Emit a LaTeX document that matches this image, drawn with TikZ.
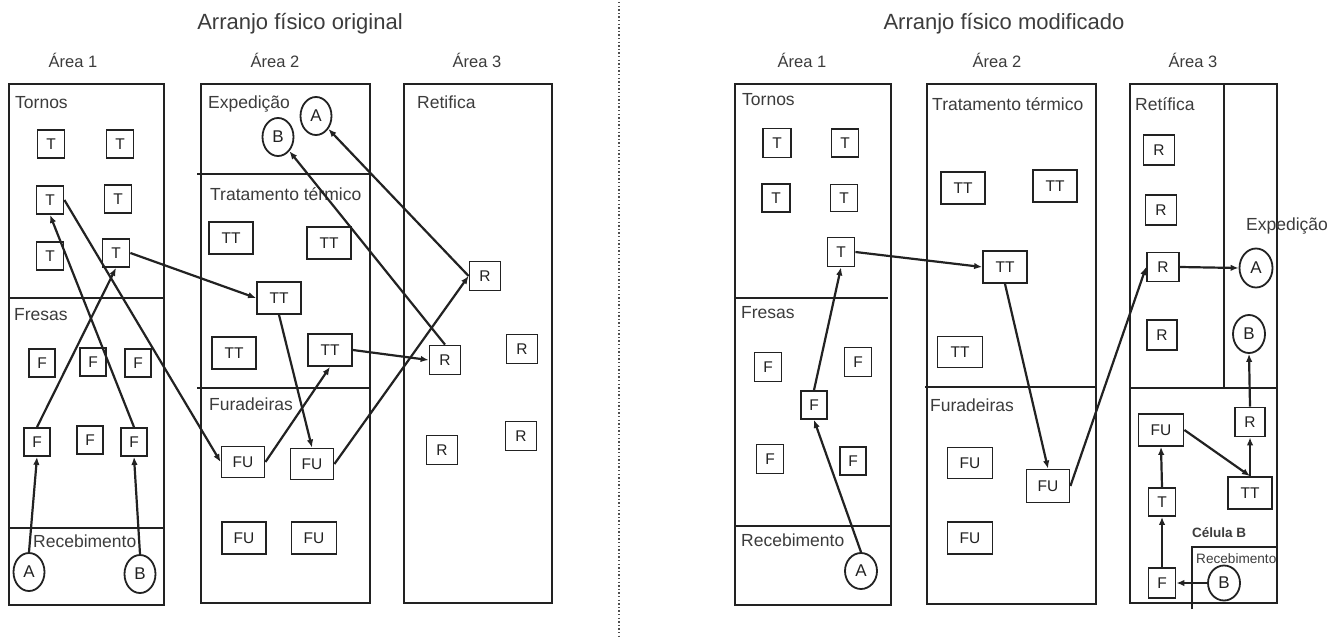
\documentclass[tikz,border=0pt]{standalone}
\usepackage{fontspec}
\setmainfont{Liberation Sans}
\usetikzlibrary{arrows.meta, shapes.geometric, backgrounds}
\definecolor{Ink}{HTML}{222222}
\definecolor{Txt}{HTML}{3C3C3C}
\tikzset{
  area/.style={draw=Ink, line width=1.9pt},
  sepl/.style={draw=Ink, line width=2.2pt},
  zone/.style={anchor=base west, inner sep=0pt, text=Txt,
    font=\fontsize{17.5}{20}\selectfont},
  ttl/.style={anchor=base, inner sep=0pt, text=Txt,
    font=\fontsize{22}{26}\selectfont},
  arealbl/.style={anchor=base, inner sep=0pt, text=Txt,
    font=\fontsize{16.5}{19}\selectfont},
  mach/.style args={#1/#2}{
    rectangle, draw=Ink, line width=1.8pt, inner sep=0pt,
    minimum width=#1pt, minimum height=#2pt,
    text=Ink, font=\fontsize{15.5}{17}\selectfont,
  },
  stock/.style={
    ellipse, draw=Ink, line width=1.8pt, inner sep=0pt,
    minimum width=31pt, minimum height=38pt,
    text=Ink, font=\fontsize{17}{19}\selectfont,
  },
  arr/.style={
    -{Latex[length=8pt,width=6.5pt]},
    line width=2.2pt, draw=Ink,
  },
}

\begin{document}
\begin{tikzpicture}[x=1pt,y=-1pt]

    \fill[white] (0,0) rectangle (1340,636);

    % divider
    \draw[Ink!80, line width=1.4pt, dash pattern=on 1.4pt off 2.2pt] (619,2) -- (619,636);

    \node[ttl] (ttlO) at (300,30) {Arranjo físico original};
    \node[ttl] (ttlM) at (1004,30) {Arranjo físico modificado};

    % ---------------- original ----------------
    \node[arealbl] (oa1) at (73,67)  {Área 1};
    \node[arealbl] (oa2) at (275,67) {Área 2};
    \node[arealbl] (oa3) at (477,67) {Área 3};

    \draw[area] (9,84) rectangle (164,605);
    \draw[sepl] (8,298) -- (163,298);
    \draw[sepl] (8,528) -- (163,528);
    \draw[area] (201,84) rectangle (370,603);
    \draw[sepl] (197,174) -- (370,174);
    \draw[sepl] (197,388) -- (370,388);
    \draw[area] (404,84) rectangle (552,603);

    \node[zone] (oTor) at (15,108)  {Tornos};
    \node[zone] (oFre) at (14,320)  {Fresas};
    \node[zone] (oRec) at (33,547)  {Recebimento};
    \node[zone] (oExp) at (208,108) {Expedição};
    \node[zone] (oTrt) at (210,200) {Tratamento térmico};
    \node[zone] (oFur) at (209,410) {Furadeiras};
    \node[zone] (oRet) at (417,108) {Retifica};

    \node[mach=27/28] (oT1) at (51,144)  {T};
    \node[mach=27/28] (oT2) at (120,144) {T};
    \node[mach=27/28] (oT3) at (50,200)  {T};
    \node[mach=27/28] (oT4) at (118,199) {T};
    \node[mach=27/28] (oT5) at (50,256)  {T};
    \node[mach=27/28] (oT6) at (116,253) {T};

    \node[mach=26/28] (oF1) at (42,363)  {F};
    \node[mach=26/28] (oF2) at (93,362)  {F};
    \node[mach=26/28] (oF3) at (138,363) {F};
    \node[mach=26/28] (oF4) at (37,442)  {F};
    \node[mach=26/28] (oF5) at (90,440)  {F};
    \node[mach=26/28] (oF6) at (134,442) {F};

    \node[stock] (oA) at (29,572)  {A};
    \node[stock] (oB) at (140,574) {B};

    \node[stock] (oEA) at (316,116) {A};
    \node[stock] (oEB) at (278,137) {B};

    \node[mach=44/32] (oTT1) at (231,238) {TT};
    \node[mach=44/32] (oTT2) at (329,243) {TT};
    \node[mach=44/32] (oTT3) at (279,298) {TT};
    \node[mach=44/32] (oTT4) at (234,353) {TT};
    \node[mach=44/32] (oTT5) at (330,350) {TT};

    \node[mach=43/31] (oFU1) at (243,462) {FU};
    \node[mach=43/31] (oFU2) at (312,464) {FU};
    \node[mach=44/32] (oFU3) at (244,538) {FU};
    \node[mach=45/32] (oFU4) at (314,538) {FU};

    \node[mach=31/29] (oR1) at (445,360) {R};
    \node[mach=31/29] (oR2) at (485,276) {R};
    \node[mach=31/29] (oR3) at (522,349) {R};
    \node[mach=31/29] (oR4) at (442,450) {R};
    \node[mach=31/29] (oR5) at (521,436) {R};

    \draw[arr] (oA.north) -- (oF4.south);
    \draw[arr] (oB.north) -- (oF6.south);
    \draw[arr] (oF4.north) -- (oT6.south);
    \draw[arr] (oF6.north) -- (oT3.south);
    \draw[arr] (oT3.east) -- (oFU1.west);
    \draw[arr] (oT6.east) -- (oTT3.west);
    \draw[arr] (oTT3.south) -- (oFU2.north);
    \draw[arr] (oFU1.east) -- (oTT5.south);
    \draw[arr] (oTT5.east) -- (oR1.west);
    \draw[arr] (oFU2.east) -- (oR2.west);
    \draw[arr] (oR2.west) -- (oEA);
    \draw[arr] (oR1.north) -- (oEB);

    % ---------------- modificado ----------------
    \node[arealbl] (ma1) at (802,67)  {Área 1};
    \node[arealbl] (ma2) at (997,67)  {Área 2};
    \node[arealbl] (ma3) at (1193,67) {Área 3};

    \draw[area] (735,84) rectangle (891,605);
    \draw[sepl] (735,298) -- (888,298);
    \draw[sepl] (735,526) -- (890,526);
    \draw[area] (927,84) rectangle (1096,604);
    \draw[sepl] (925,387) -- (1095,387);
    \draw[area] (1130,84) rectangle (1277,603);
    \draw[sepl] (1224,84) -- (1224,388);
    \draw[sepl] (1130,388) -- (1277,388);
    \draw[area] (1192,609) -- (1192,547) -- (1277,547);

    \node[zone] (mTor) at (742,105)  {Tornos};
    \node[zone] (mFre) at (741,318)  {Fresas};
    \node[zone] (mRec) at (741,546)  {Recebimento};
    \node[zone] (mTrt) at (932,110)  {Tratamento térmico};
    \node[zone] (mFur) at (930,411)  {Furadeiras};
    \node[zone] (mRet) at (1135,110) {Retífica};
    \node[zone] (mExp) at (1246,230) {Expedição};
    \node[zone, font=\fontsize{13.5}{16}\selectfont\bfseries] (cel) at (1192,537) {Célula B};
    \node[zone, font=\fontsize{13.6}{16}\selectfont] (cRec) at (1196,563) {Recebimento};

    \node[mach=28/29] (mT1) at (777,143) {T};
    \node[mach=27/28] (mT2) at (845,143) {T};
    \node[mach=28/28] (mT3) at (776,198) {T};
    \node[mach=27/27] (mT4) at (844,198) {T};
    \node[mach=27/29] (mT5) at (841,252) {T};

    \node[mach=27/29] (mF1) at (768,367) {F};
    \node[mach=27/29] (mF2) at (858,362) {F};
    \node[mach=26/28] (mF3) at (814,405) {F};
    \node[mach=27/29] (mF4) at (770,459) {F};
    \node[mach=26/28] (mF5) at (853,461) {F};

    \node[stock, minimum width=32pt, minimum height=36pt] (mA) at (861,571) {A};

    \node[mach=44/32] (mTT1) at (963,188)  {TT};
    \node[mach=44/32] (mTT2) at (1055,186) {TT};
    \node[mach=44/32] (mTT3) at (1005,267) {TT};
    \node[mach=45/31] (mTT4) at (960,352)  {TT};

    \node[mach=45/31] (mFU1) at (970,463)  {FU};
    \node[mach=43/33] (mFU2) at (1048,486) {FU};
    \node[mach=45/32] (mFU3) at (970,538)  {FU};

    \node[mach=31/30] (mR1) at (1159,150) {R};
    \node[mach=31/30] (mR2) at (1161,210) {R};
    \node[mach=32/29] (mR3) at (1163,267) {R};
    \node[mach=30/30] (mR4) at (1162,335) {R};

    \node[stock, minimum width=33pt, minimum height=39pt] (mEA) at (1256,268) {A};
    \node[stock, minimum width=32pt, minimum height=38pt] (mEB) at (1249,334) {B};

    \node[mach=45/32] (cFU) at (1161,430) {FU};
    \node[mach=30/29] (cR)  at (1250,422) {R};
    \node[mach=44/32] (cTT) at (1250,493) {TT};
    \node[mach=27/28] (cT)  at (1162,502) {T};
    \node[mach=27/30] (cF)  at (1162,583) {F};
    \node[stock, minimum width=32pt, minimum height=35pt] (cB) at (1224,583) {B};

    \draw[arr] (mA.north) -- (mF3.south);
    \draw[arr] (mF3.north) -- (mT5.south);
    \draw[arr] (mT5.east) -- (mTT3.west);
    \draw[arr] (mTT3.south) -- (mFU2.north);
    \draw[arr] (mFU2.east) -- (mR3.west);
    \draw[arr] (mR3.east) -- (mEA.west);

    \draw[arr] (cB.west) -- (cF.east);
    \draw[arr] (cF.north) -- (cT.south);
    \draw[arr] (cT.north) -- (cFU.south);
    \draw[arr] (cFU.east) -- (cTT.north);
    \draw[arr] (cTT.north) -- (cR.south);
    \draw[arr] (cR.north) -- (mEB.south);

\end{tikzpicture}
\end{document}
